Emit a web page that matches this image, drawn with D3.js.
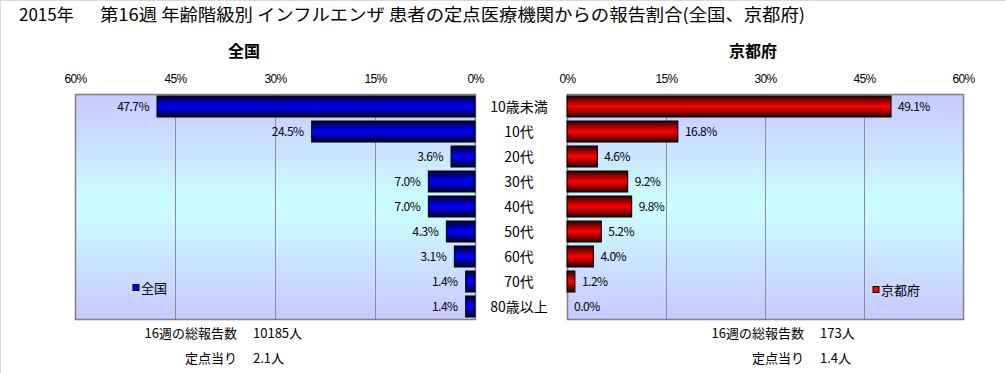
<!DOCTYPE html>
<html>
<head>
<meta charset="utf-8">
<script src="https://cdn.jsdelivr.net/npm/d3@7"></script>
<style>
  html, body { margin: 0; padding: 0; background: #fff; }
  svg { display: block; font-family: "Noto Sans CJK JP", "DejaVu Sans", sans-serif; }
  .tick text { font-size: 12px; fill: #000; letter-spacing: -0.6px; }
  .grid line { stroke: #8c8c99; }
  .grid path { display: none; }
  .value { font-size: 12px; letter-spacing: -0.5px; }
  .cat { font-size: 14px; }
  .note { font-size: 13px; }
</style>
</head>
<body>
<svg id="chart" width="1006" height="373"></svg>
<script>
// data
const categories = ['10歳未満', '10代', '20代', '30代', '40代', '50代', '60代', '70代', '80歳以上']
const zenkoku = [47.7, 24.5, 3.6, 7.0, 7.0, 4.3, 3.1, 1.4, 1.4]
const kyoto = [49.1, 16.8, 4.6, 9.2, 9.8, 5.2, 4.0, 1.2, 0.0]
const tickValues = [0, 15, 30, 45, 60]
const notesLeft = [['16週の総報告数', '10185人'], ['定点当り', '2.1人']]
const notesRight = [['16週の総報告数', '173人'], ['定点当り', '1.4人']]

const svg = d3.select('#chart')
const defs = svg.append('defs')

function vgrad(id, stops) {
  const g = defs.append('linearGradient').attr('id', id)
    .attr('x1', 0).attr('y1', 0).attr('x2', 0).attr('y2', 1)
  stops.forEach(([o, c]) => g.append('stop').attr('offset', o).attr('stop-color', c))
}
vgrad('bg', [[0, '#c8c8ff'], [0.5, '#ccffff'], [1, '#c8c8ff']])
vgrad('blue', [[0, '#000030'], [0.5, '#0000ff'], [1, '#000030']])
vgrad('red', [[0, '#300000'], [0.5, '#ff0000'], [1, '#300000']])

// frame
svg.append('line').attr('x1', 0).attr('x2', 1006).attr('y1', 0.5).attr('y2', 0.5).attr('stroke', '#d9d9d9')
svg.append('line').attr('x1', 0.5).attr('x2', 0.5).attr('y1', 0).attr('y2', 373).attr('stroke', '#d9d9d9')

// title
svg.append('text').attr('x', 19).attr('y', 21).attr('font-size', 17).text('2015年')
svg.append('text').attr('x', 100).attr('y', 21).attr('font-size', 17)
  .attr('textLength', 705).attr('lengthAdjust', 'spacingAndGlyphs')
  .text('第16週 年齢階級別 インフルエンザ 患者の定点医療機関からの報告割合(全国、京都府)')

const plotTop = 94, plotBottom = 319
const y = d3.scaleBand().domain(categories).range([plotTop, plotBottom]).paddingInner(0.16).paddingOuter(0.08)
const xL = d3.scaleLinear().domain([0, 60]).range([475, 75])
const xR = d3.scaleLinear().domain([0, 60]).range([567, 963])
const fmt = (v) => d3.format('.1f')(v) + '%'

function panel(x, values, fill, title, titleX, legendX, legendY, left) {
  const rows = values.map((v, i) => ({ cat: categories[i], v }))
  const [x0, x1] = d3.extent(x.range())
  svg.append('rect').attr('x', x0).attr('y', plotTop).attr('width', x1 - x0).attr('height', plotBottom - plotTop)
    .attr('fill', 'url(#bg)')
  svg.append('g').attr('class', 'grid').attr('transform', `translate(0,${plotBottom})`)
    .call(d3.axisTop(x).tickValues(tickValues).tickSize(plotBottom - plotTop).tickFormat(''))
  svg.append('g').attr('transform', `translate(0,${plotTop})`)
    .call(d3.axisTop(x).tickValues(tickValues).tickSize(0).tickPadding(11).tickFormat((d) => d + '%'))
    .call((g) => g.select('.domain').remove())
  svg.append('rect').attr('x', x0 + 0.5).attr('y', plotTop + 0.5).attr('width', x1 - x0).attr('height', plotBottom - plotTop)
    .attr('fill', 'none').attr('stroke', '#808080').attr('stroke-width', 1.5)

  svg.append('g').selectAll('rect').data(rows.filter((d) => d.v > 0)).join('rect')
    .attr('x', (d) => Math.min(x(0), x(d.v)))
    .attr('y', (d) => y(d.cat))
    .attr('width', (d) => Math.abs(x(d.v) - x(0)))
    .attr('height', y.bandwidth())
    .attr('fill', `url(#${fill})`)
    .attr('stroke', '#000').attr('stroke-width', 1)

  svg.append('g').selectAll('text').data(rows).join('text')
    .attr('class', 'value')
    .attr('x', (d) => left ? x(d.v) - 8 : x(d.v) + 7)
    .attr('y', (d) => y(d.cat) + y.bandwidth() / 2 + 4)
    .attr('text-anchor', left ? 'end' : 'start')
    .text((d) => fmt(d.v))

  svg.append('text').attr('x', titleX).attr('y', 57).attr('text-anchor', 'middle')
    .attr('font-size', 16).attr('font-weight', 'bold').text(title)

  svg.append('rect').attr('x', legendX).attr('y', legendY - 3.5).attr('width', 6).attr('height', 6)
    .attr('fill', fill === 'blue' ? '#0000ff' : '#ff0000').attr('stroke', '#000')
  svg.append('text').attr('x', legendX + 8).attr('y', legendY + 5).attr('font-size', 13).text(title)
}

panel(xL, zenkoku, 'blue', '全国', 244, 133, 288, true)
panel(xR, kyoto, 'red', '京都府', 753, 873, 290, false)

svg.append('g').selectAll('text').data(categories).join('text')
  .attr('class', 'cat')
  .attr('x', 519)
  .attr('y', (d) => y(d) + y.bandwidth() / 2 + 5)
  .attr('text-anchor', 'middle')
  .text((d) => d)

function notes(rows, labelX, valueX) {
  rows.forEach(([label, value], i) => {
    const yy = 338 + i * 25
    svg.append('text').attr('class', 'note').attr('x', labelX).attr('y', yy).attr('text-anchor', 'end').text(label)
    svg.append('text').attr('class', 'note').attr('x', valueX).attr('y', yy).text(value)
  })
}
notes(notesLeft, 237, 253)
notes(notesRight, 804, 820)
</script>
</body>
</html>
